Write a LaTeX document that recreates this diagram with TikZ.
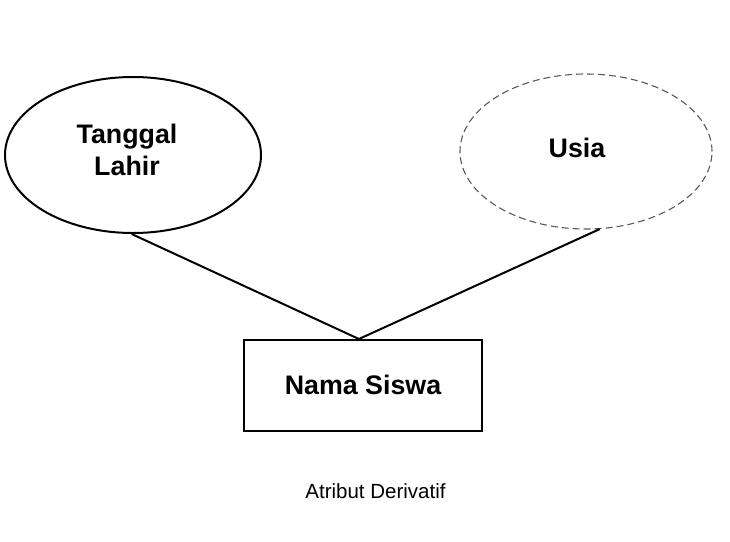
\documentclass[tikz,border=0pt]{standalone}
\usepackage{fontspec}
\setmainfont{Liberation Sans}
\usetikzlibrary{shapes.geometric}
\begin{document}
\begin{tikzpicture}[x=1pt,y=-1pt,
  attr/.style={ellipse, draw=black, line width=2pt, fill=white, inner sep=0pt},
  derived/.style={ellipse, draw=black!65, dash pattern=on 7pt off 4pt, line width=1.1pt, inner sep=0pt},
  entity/.style={rectangle, draw=black, line width=2pt, inner sep=0pt},
  lbl/.style={font=\fontsize{26.8}{32}\selectfont\bfseries, align=center, inner sep=0pt},
  conn/.style={line width=2pt, black}]
\useasboundingbox (0,0) rectangle (730,541);
\node[attr, minimum width=256pt, minimum height=156pt] (tl) at (133,155) {};
\node[lbl] (tltext) at (127,150) {Tanggal\\Lahir};
\node[derived, minimum width=252pt, minimum height=155pt] (us) at (586,151.5) {};
\node[lbl] (ustext) at (577,148) {Usia};
\node[entity, minimum width=238pt, minimum height=91pt] (ns) at (363,385.5) {};
\node[lbl] (nstext) at (363,385) {Nama Siswa};
\draw[conn] (tl.-91) -- (ns.95);
\draw[conn] (us.-80) -- (ns.95);
\node[font=\fontsize{20.5}{24}\selectfont, inner sep=0pt] (cap) at (375.5,491) {Atribut Derivatif};
\end{tikzpicture}
\end{document}
